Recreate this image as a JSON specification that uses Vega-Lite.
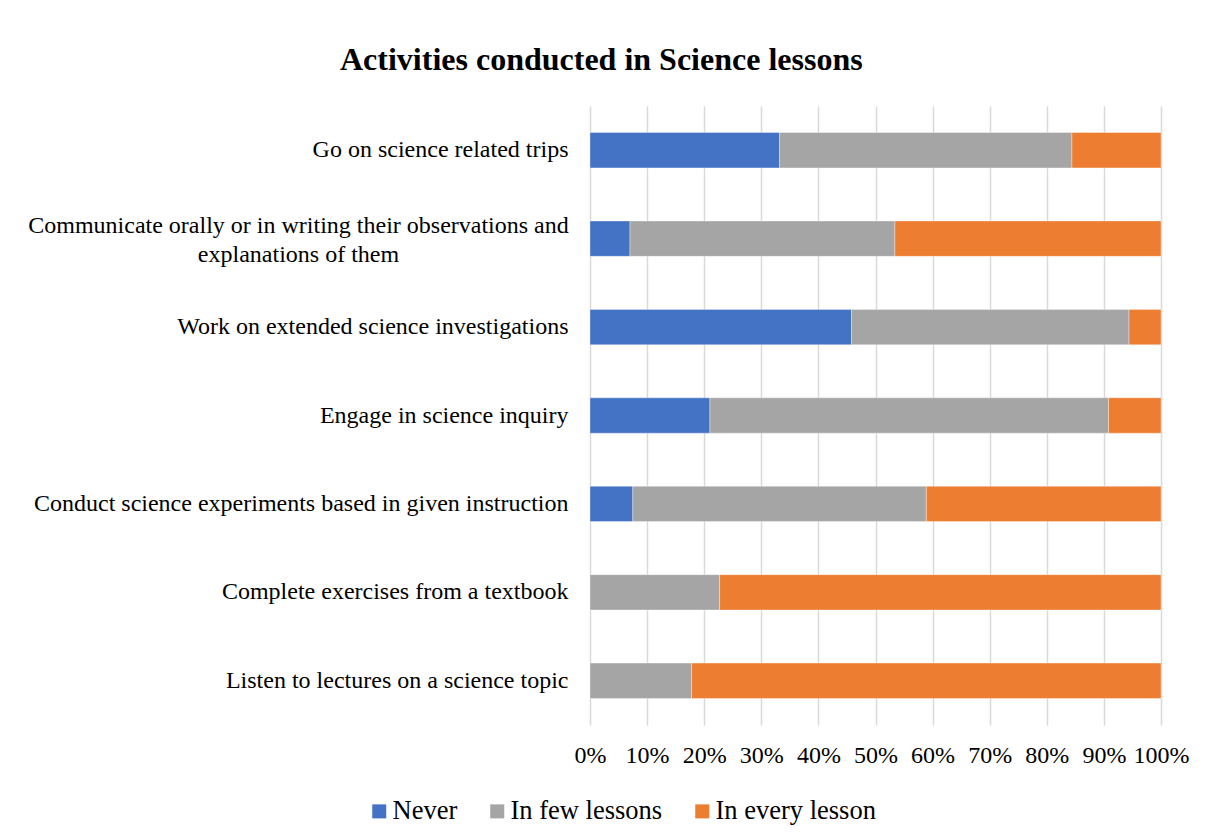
{
  "$schema": "https://vega.github.io/schema/vega-lite/v6.json",
  "autosize": {"type": "none"},
  "padding": {"left": 590, "top": 106, "right": 47, "bottom": 114},
  "width": 571,
  "height": 619,
  "background": "white",
  "title": {
    "text": "Activities conducted in Science lessons",
    "frame": "group",
    "anchor": "start",
    "dx": -250,
    "offset": 4,
    "baseline": "alphabetic",
    "font": "Liberation Serif",
    "fontSize": 32,
    "fontWeight": "bold",
    "color": "#000000"
  },
  "data": {
    "values": [
      {"activity": "Go on science related trips", "response": "Never", "rank": 1, "share": 0.332},
      {"activity": "Go on science related trips", "response": "In few lessons", "rank": 2, "share": 0.512},
      {"activity": "Go on science related trips", "response": "In every lesson", "rank": 3, "share": 0.156},
      {"activity": "Communicate orally or in writing their observations and explanations of them", "response": "Never", "rank": 1, "share": 0.070},
      {"activity": "Communicate orally or in writing their observations and explanations of them", "response": "In few lessons", "rank": 2, "share": 0.464},
      {"activity": "Communicate orally or in writing their observations and explanations of them", "response": "In every lesson", "rank": 3, "share": 0.466},
      {"activity": "Work on extended science investigations", "response": "Never", "rank": 1, "share": 0.458},
      {"activity": "Work on extended science investigations", "response": "In few lessons", "rank": 2, "share": 0.486},
      {"activity": "Work on extended science investigations", "response": "In every lesson", "rank": 3, "share": 0.056},
      {"activity": "Engage in science inquiry", "response": "Never", "rank": 1, "share": 0.210},
      {"activity": "Engage in science inquiry", "response": "In few lessons", "rank": 2, "share": 0.698},
      {"activity": "Engage in science inquiry", "response": "In every lesson", "rank": 3, "share": 0.092},
      {"activity": "Conduct science experiments based in given instruction", "response": "Never", "rank": 1, "share": 0.075},
      {"activity": "Conduct science experiments based in given instruction", "response": "In few lessons", "rank": 2, "share": 0.514},
      {"activity": "Conduct science experiments based in given instruction", "response": "In every lesson", "rank": 3, "share": 0.411},
      {"activity": "Complete exercises from a textbook", "response": "Never", "rank": 1, "share": 0.0},
      {"activity": "Complete exercises from a textbook", "response": "In few lessons", "rank": 2, "share": 0.227},
      {"activity": "Complete exercises from a textbook", "response": "In every lesson", "rank": 3, "share": 0.773},
      {"activity": "Listen to lectures on a science topic", "response": "Never", "rank": 1, "share": 0.0},
      {"activity": "Listen to lectures on a science topic", "response": "In few lessons", "rank": 2, "share": 0.178},
      {"activity": "Listen to lectures on a science topic", "response": "In every lesson", "rank": 3, "share": 0.822}
    ]
  },
  "mark": {"type": "bar", "stroke": "#ffffff", "strokeWidth": 0.6, "strokeOpacity": 0.6},
  "encoding": {
    "y": {
      "field": "activity",
      "type": "nominal",
      "sort": null,
      "scale": {"paddingInner": 0.6, "paddingOuter": 0.3},
      "axis": {
        "title": null,
        "domain": false,
        "ticks": false,
        "grid": false,
        "labelFont": "Liberation Serif",
        "labelFontSize": 24,
        "labelColor": "#000000",
        "labelLimit": 600,
        "labelLineHeight": 29,
        "labelExpr": "datum.value == 'Communicate orally or in writing their observations and explanations of them' ? ['Communicate orally or in writing their observations and', 'explanations of them'] : datum.value",
        "labelAlign": {
          "condition": {"test": "datum.value == 'Communicate orally or in writing their observations and explanations of them'", "value": "center"},
          "value": "right"
        },
        "labelPadding": {
          "condition": {"test": "datum.value == 'Communicate orally or in writing their observations and explanations of them'", "value": 292},
          "value": 22
        },
        "labelOffset": {
          "condition": {"test": "datum.value == 'Communicate orally or in writing their observations and explanations of them'", "value": -13},
          "value": 0
        }
      }
    },
    "x": {
      "field": "share",
      "type": "quantitative",
      "stack": "zero",
      "scale": {"domain": [0, 1], "nice": false},
      "axis": {
        "title": null,
        "format": ".0%",
        "values": [0, 0.1, 0.2, 0.3, 0.4, 0.5, 0.6, 0.7, 0.8, 0.9, 1],
        "domain": false,
        "ticks": false,
        "grid": true,
        "gridColor": "#d9d9d9",
        "gridWidth": 1.5,
        "labelPadding": 18,
        "labelFont": "Liberation Serif",
        "labelFontSize": 24,
        "labelColor": "#000000",
        "labelFlush": false,
        "labelOverlap": false
      }
    },
    "order": {"field": "rank", "type": "quantitative"},
    "color": {
      "field": "response",
      "type": "nominal",
      "scale": {
        "domain": ["Never", "In few lessons", "In every lesson"],
        "range": ["#4472C4", "#A5A5A5", "#ED7D31"]
      },
      "legend": {
        "title": null,
        "orient": "none",
        "direction": "horizontal",
        "legendX": -224,
        "legendY": 692,
        "padding": 0,
        "symbolType": "square",
        "symbolSize": 196,
        "symbolStrokeWidth": 0,
        "symbolOffset": 0,
        "labelOffset": 0,
        "columnPadding": 26,
        "labelFont": "Liberation Serif",
        "labelFontSize": 26.5,
        "labelColor": "#000000",
        "labelLimit": 300
      }
    }
  },
  "config": {
    "view": {"stroke": null}
  }
}
